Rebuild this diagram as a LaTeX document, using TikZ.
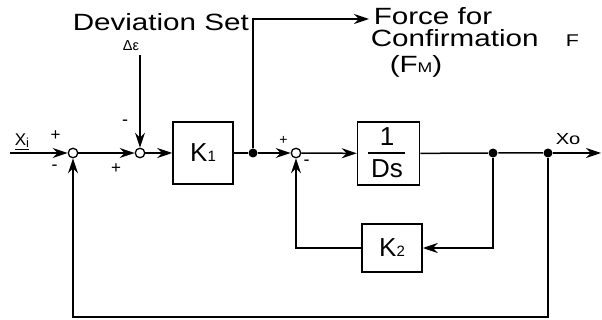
\documentclass[tikz,border=0pt]{standalone}
\usepackage{fontspec}
\setmainfont{Liberation Sans}
\usetikzlibrary{arrows.meta}
\newcommand{\wide}[1]{\scalebox{1.26}[1]{#1}}
\newcommand{\fs}[1]{\fontsize{#1pt}{#1pt}\selectfont}
\begin{document}
\begin{tikzpicture}[x=1pt,y=-1pt,line width=1.5pt,
  arr/.style={-{Stealth[length=15pt,width=10pt,inset=5pt]}},
  sumj/.style={circle,draw,line width=1.3pt,minimum size=9.5pt,inner sep=0pt,fill=white},
  dotj/.style={circle,fill,minimum size=9pt,inner sep=0pt},
  blk/.style={draw,line width=1.5pt,inner sep=0pt},
  lbl/.style={inner sep=0pt}]
\useasboundingbox (0,0) rectangle (602,320);
% blocks and junctions
\node[sumj] (s1) at (73,153) {};
\node[sumj] (s2) at (140,153) {};
\node[blk,minimum width=60pt,minimum height=62pt] (k1) at (203,153) {\fs{26}K{\fs{15}1}};
\node[dotj] (j1) at (253,153) {};
\node[sumj] (s3) at (296,153) {};
\node[blk,minimum width=62pt,minimum height=63pt] (ds) at (388.5,153.5) {};
\node[lbl] (one) at (387,137) {\fs{26}1};
\node[lbl] (dsl) at (387,169) {\fs{26}Ds};
\draw[line width=1.3pt] (368,153) -- (405,153);
\node[dotj] (j2) at (493,153) {};
\node[dotj] (j3) at (548,153) {};
\node[blk,minimum width=60pt,minimum height=48pt] (k2) at (392,248) {\fs{26}K{\fs{15}2}};
\coordinate (in) at (10,153);
\coordinate (out) at (601,153);
\coordinate (dtop) at (140,55);
\coordinate (c1) at (253,19);
\coordinate (fend) at (369,19);
\coordinate (bot) at (0,317);
% connectors
\draw[arr] (in) -- (s1);
\draw[arr] (s1) -- (s2);
\draw[arr] (s2) -- (k1);
\draw (k1) -- (j1);
\draw[arr] (j1) -- (s3);
\draw[arr] (s3) -- (ds);
\draw (ds) -- (j2) -- (j3);
\draw[arr] (j3) -- (out);
\draw[arr] (dtop) -- (s2);
\draw[arr] (j1) -- (c1) -- (fend);
\draw[arr] (j2) |- (k2);
\draw[arr] (k2) -| (s3);
\draw[arr] (j3) -- (j3 |- bot) -| (s1);
% labels
\node[lbl,anchor=base west] (dev) at (72,31) {\fs{23.5}\wide{Deviation Set}};
\node[lbl,anchor=base] (de) at (131,51) {\fs{14.5}Δε};
\node[lbl,anchor=base west] (ff) at (373,25) {\fs{23.5}\wide{Force for}};
\node[lbl,anchor=base west] (conf) at (370,47) {\fs{23.5}\wide{Confirmation}};
\node[lbl,anchor=base west] (fl) at (565,47) {\fs{17}\wide{F}};
\node[lbl,anchor=base west] (fm) at (389,73) {\fs{23.5}\wide{(F{\fs{14}M})}};
\node[lbl,anchor=base west] (xi) at (14,146) {\fs{17}\underline{X\raisebox{-2pt}{\fs{13}i}}};
\node[lbl,anchor=base west] (xo) at (555,145) {\fs{16}\wide{Xo}};
\node[lbl] (p1) at (55.5,135.5) {\fs{17}+};
\node[lbl] (m1) at (54.5,168) {\fs{18}-};
\node[lbl] (m2) at (125,123) {\fs{18}-};
\node[lbl] (p2) at (116,169) {\fs{17}+};
\node[lbl] (p3) at (283.5,140) {\fs{14}+};
\node[lbl] (m3) at (306.5,163) {\fs{18}-};
\end{tikzpicture}
\end{document}
